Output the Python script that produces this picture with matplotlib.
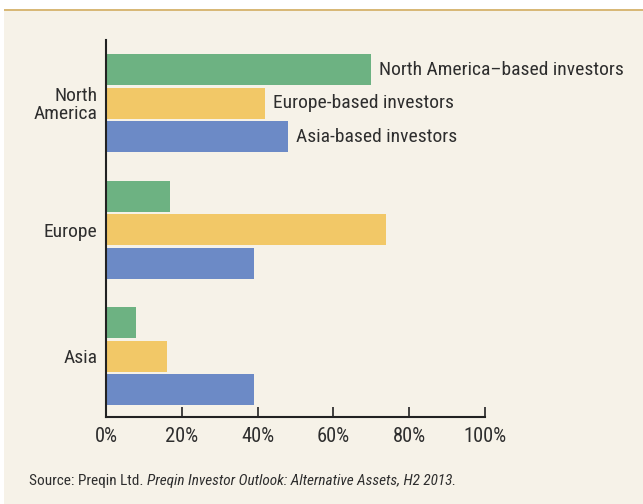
"""Preqin chart: regional investment preference by investor base."""

import matplotlib.pyplot as plt
from matplotlib import font_manager
from matplotlib.patches import Rectangle

regions = ["North\nAmerica", "Europe", "Asia"]
series_names = [
    "North America\u2013based investors",
    "Europe-based investors",
    "Asia-based investors",
]
na_investors = [70, 17, 8]
eu_investors = [42, 74, 16]
asia_investors = [48, 39, 39]
x_ticks = [0, 20, 40, 60, 80, 100]
x_tick_labels = ["0%", "20%", "40%", "60%", "80%", "100%"]

colors = ["#6db282", "#f2c867", "#6c8ac6"]
text_color = "#2e2e2e"

# narrowest family that is actually installed
installed = {f.name for f in font_manager.fontManager.ttflist}
condensed = [n for n in ("Liberation Sans Narrow", "DejaVu Sans Condensed",
                         "Roboto Condensed", "Open Sans Condensed", "Roboto")
             if n in installed]
plt.rcParams["font.family"] = condensed[:1] + ["DejaVu Sans"]
plt.rcParams["font.stretch"] = "condensed"
narrow = bool(condensed) and condensed[0] != "Roboto"
fs = 14.0 if narrow else 12.5
fs_tick = 14.8 if narrow else 13.0
fs_src = 11.0 if narrow else 10.5

fig = plt.figure(figsize=(6.43, 5.04), dpi=100)
fig.patch.set_facecolor("white")

# cream panel with gold top rule
fig.patches.append(Rectangle((4 / 643, 0), 1, 1 - 10 / 504,
                             transform=fig.transFigure,
                             facecolor="#f6f2e8", edgecolor="none", zorder=-5))
fig.patches.append(Rectangle((4 / 643, 1 - 11 / 504), 1, 2 / 504,
                             transform=fig.transFigure,
                             facecolor="#d8b877", edgecolor="none", zorder=-5))

ax = fig.add_axes([106 / 643, 1 - 417 / 504, (485 - 106) / 643, (417 - 40) / 504])
ax.set_facecolor("none")

offset = 0.265
height = 0.245
series = [na_investors, eu_investors, asia_investors]
for i, (vals, color) in enumerate(zip(series, colors)):
    ys = [k + (i - 1) * offset for k in range(len(regions))]
    ax.barh(ys, vals, height=height, color=color, edgecolor="none", zorder=2)

# series labels next to the North America bars
for i, name in enumerate(series_names):
    ax.text(series[i][0] + 2, (i - 1) * offset, name, va="center", ha="left",
            fontsize=fs, color=text_color, clip_on=False)

ax.set_xlim(0, 100)
ax.set_ylim(2.48, -0.5)
ax.set_xticks(x_ticks)
ax.set_xticklabels(x_tick_labels, fontsize=fs_tick, color=text_color)
ax.set_yticks(range(len(regions)))
ax.set_yticklabels(regions, fontsize=fs, color=text_color, linespacing=1.0)
ax.tick_params(axis="y", length=0, pad=6)
ax.tick_params(axis="x", direction="in", length=7, width=1.2,
               color="#222222", pad=7)

for side in ("top", "right"):
    ax.spines[side].set_visible(False)
for side in ("left", "bottom"):
    ax.spines[side].set_color("#222222")
    ax.spines[side].set_linewidth(1.5)

src = fig.text(29 / 643, 1 - 481 / 504, "Source: Preqin Ltd. ", fontsize=fs_src,
               color=text_color, va="center", ha="left")
fig.canvas.draw()
bb = src.get_window_extent()
fig.text(bb.x1 / fig.bbox.width, 1 - 481 / 504,
         "Preqin Investor Outlook: Alternative Assets, H2 2013.",
         fontsize=fs_src, style="italic", color=text_color, va="center", ha="left")

fig.savefig("out.png", dpi=100)
